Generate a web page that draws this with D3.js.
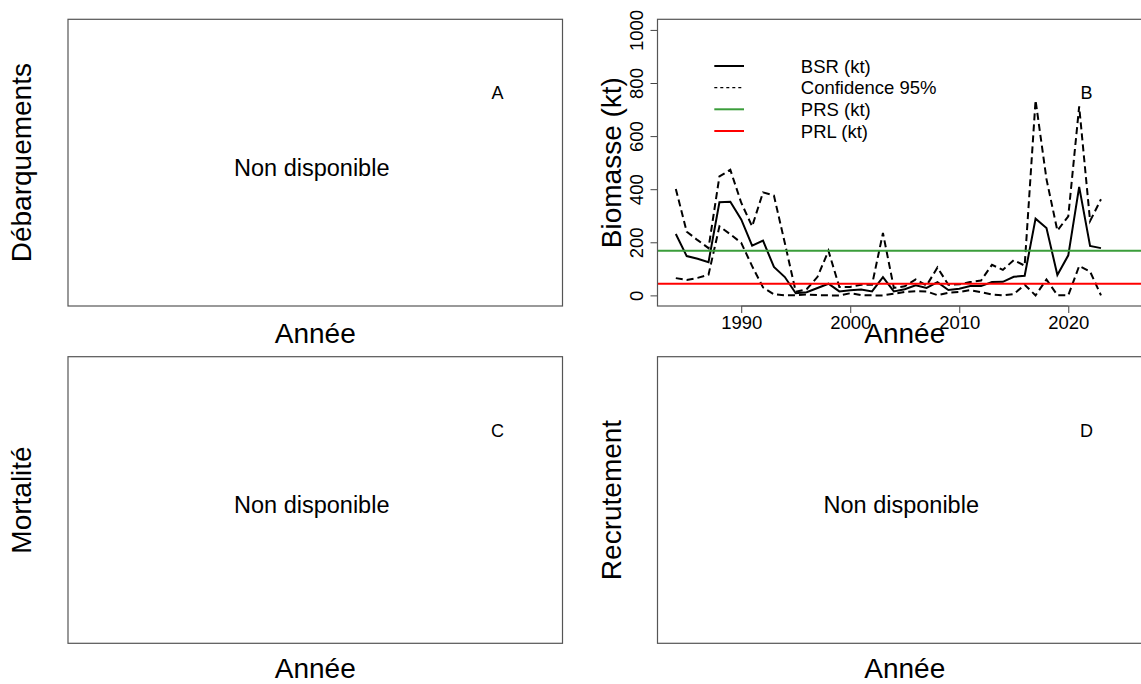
<!DOCTYPE html>
<html><head><meta charset="utf-8">
<script src="https://cdn.jsdelivr.net/npm/d3@7"></script>
<style>
html,body{margin:0;padding:0;background:#fff;}
svg text{font-family:"Liberation Sans",Arial,Helvetica,sans-serif;fill:#000;}
</style></head>
<body><svg id="chart" width="1141" height="684"></svg>
<script>
// ---- data ----
const years = [1984,1985,1986,1987,1988,1989,1990,1991,1992,1993,1994,1995,1996,1997,1998,1999,2000,2001,2002,2003,2004,2005,2006,2007,2008,2009,2010,2011,2012,2013,2014,2015,2016,2017,2018,2019,2020,2021,2022,2023];
const bsr   = [231,148,138,125,351,353,286,187,206,107,69,8,12,28,44,15,19,22,15,69,15,23,38,28,50,20,25,35,35,50,51,70,74,289,254,77,151,409,186,178];
const upper = [401,240,208,178,448,473,349,260,388,376,197,14,23,70,168,32,32,40,40,235,28,34,60,37,105,40,42,50,56,115,96,133,112,735,438,244,298,712,280,362];
const lower = [65,58,66,78,260,230,198,110,30,4,0,1,3,1,0,0,8,1,0,0,6,13,16,15,1,10,13,20,12,3,0,5,40,0,60,1,0,111,90,0];
const prs = 168;
const prl = 44;
const xTicks = [1990,2000,2010,2020];
const yTicks = [0,200,400,600,800,1000];
const legendLabels = ["BSR (kt)","Confidence 95%","PRS (kt)","PRL (kt)"];
const panelLetters = ["A","B","C","D"];
const yTitles = ["Débarquements","Biomasse (kt)","Mortalité","Recrutement"];
const xTitle = "Année";
const naText = "Non disponible";

const svg = d3.select("#chart");
const green = "#3a9d3a", red = "#ff0000";

// panel boxes
const panels = [
  {x0:68,  x1:562.5, y0:19.3,  y1:306},
  {x0:657.5,x1:1152, y0:19.3,  y1:306},
  {x0:68,  x1:562.5, y0:356.7, y1:643.3},
  {x0:657.5,x1:1152, y0:356.7, y1:643.3}
];
const titleX = [30.5, 620.5, 30.5, 621];
const xTitleY = [343, 343, 678, 678];

panels.forEach((p,i)=>{
  const g = svg.append("g");
  const cx = (p.x0+p.x1)/2, cy=(p.y0+p.y1)/2;
  // y title
  g.append("text").attr("transform",`translate(${titleX[i]},${cy}) rotate(-90)`)
    .attr("text-anchor","middle").attr("font-size",28).text(yTitles[i]);
  // x title
  g.append("text").attr("x",cx).attr("y",xTitleY[i]).attr("text-anchor","middle")
    .attr("font-size",28).text(xTitle);
  // letter
  g.append("text").attr("x",p.x0+ (i%2===0?429.5:429)).attr("y",p.y0+73.4+6.5)
    .attr("text-anchor","middle").attr("font-size",18).text(panelLetters[i]);
  if(i!==1){
    g.append("text").attr("x",cx-3.5).attr("y",cy+5+8.4).attr("text-anchor","middle")
      .attr("font-size",23.5).text(naText);
  }
});

// ---- Panel B ----
const pb = panels[1];
const xr = [1984,2026], xe=(xr[1]-xr[0])*0.04;
const x = d3.scaleLinear().domain([xr[0]-xe, xr[1]+xe]).range([pb.x0,pb.x1]);
const yr=[0,1000], ye=(yr[1]-yr[0])*0.04;
const y = d3.scaleLinear().domain([yr[0]-ye, yr[1]+ye]).range([pb.y1,pb.y0]);

const gB = svg.append("g");
gB.append("defs").append("clipPath").attr("id","clipB").append("rect")
  .attr("x",pb.x0).attr("y",pb.y0).attr("width",pb.x1-pb.x0).attr("height",pb.y1-pb.y0);
const plot = gB.append("g").attr("clip-path","url(#clipB)");

const line = vals => d3.line().x((d,i)=>x(years[i])).y(d=>y(d))(vals);

plot.append("path").attr("d",line(upper)).attr("fill","none").attr("stroke","#000")
  .attr("stroke-width",2).attr("stroke-dasharray","7,4");
plot.append("path").attr("d",line(lower)).attr("fill","none").attr("stroke","#000")
  .attr("stroke-width",2).attr("stroke-dasharray","7,4");
plot.append("path").attr("d",line(bsr)).attr("fill","none").attr("stroke","#000")
  .attr("stroke-width",2);
plot.append("line").attr("x1",pb.x0).attr("x2",pb.x1).attr("y1",y(prs)).attr("y2",y(prs))
  .attr("stroke",green).attr("stroke-width",2);
plot.append("line").attr("x1",pb.x0).attr("x2",pb.x1).attr("y1",y(prl)).attr("y2",y(prl))
  .attr("stroke",red).attr("stroke-width",2);

// axes
const xAxis = d3.axisBottom(x).tickValues(xTicks).tickFormat(d3.format("d")).tickSize(7).tickPadding(3);
const gx = gB.append("g").attr("transform",`translate(0,${pb.y1})`).call(xAxis);
gx.select(".domain").attr("d",`M${x(xTicks[0])},0H${x(xTicks[xTicks.length-1])}`).attr("stroke","#444");
gx.selectAll(".tick line").attr("stroke","#444");
gx.selectAll("text").attr("font-size",18.5).attr("font-family","Liberation Sans, Arial, sans-serif")
  .attr("fill","#000").attr("dy",null).attr("y",22.5);

const yAxis = d3.axisLeft(y).tickValues(yTicks).tickFormat(d3.format("d")).tickSize(7);
const gy = gB.append("g").attr("transform",`translate(${pb.x0},0)`).call(yAxis);
gy.select(".domain").attr("d",`M0,${y(yTicks[0])}V${y(yTicks[yTicks.length-1])}`).attr("stroke","#444");
gy.selectAll(".tick line").attr("stroke","#444");
gy.selectAll(".tick text").attr("font-size",18.5).attr("font-family","Liberation Sans, Arial, sans-serif")
  .attr("fill","#000").attr("x",null).attr("dy",null)
  .attr("transform","translate(-14.5,0) rotate(-90)").attr("text-anchor","middle");

// legend
const legY = [66,87.7,109.3,131];
const legStyles = [
  {c:"#000",w:2,d:null},
  {c:"#000",w:1.2,d:"3,3"},
  {c:green,w:2,d:null},
  {c:red,w:2,d:null}
];
legendLabels.forEach((lab,i)=>{
  const s=legStyles[i];
  gB.append("line").attr("x1",714.3).attr("x2",744).attr("y1",legY[i]).attr("y2",legY[i])
    .attr("stroke",s.c).attr("stroke-width",s.w).attr("stroke-dasharray",s.d);
  gB.append("text").attr("x",800.8).attr("y",legY[i]+6.5).attr("font-size",18.5).text(lab);
});

// boxes
panels.forEach(p=>{
  svg.append("rect").attr("x",p.x0).attr("y",p.y0).attr("width",p.x1-p.x0).attr("height",p.y1-p.y0)
    .attr("fill","none").attr("stroke","#555").attr("stroke-width",1.2);
});
</script></body></html>
